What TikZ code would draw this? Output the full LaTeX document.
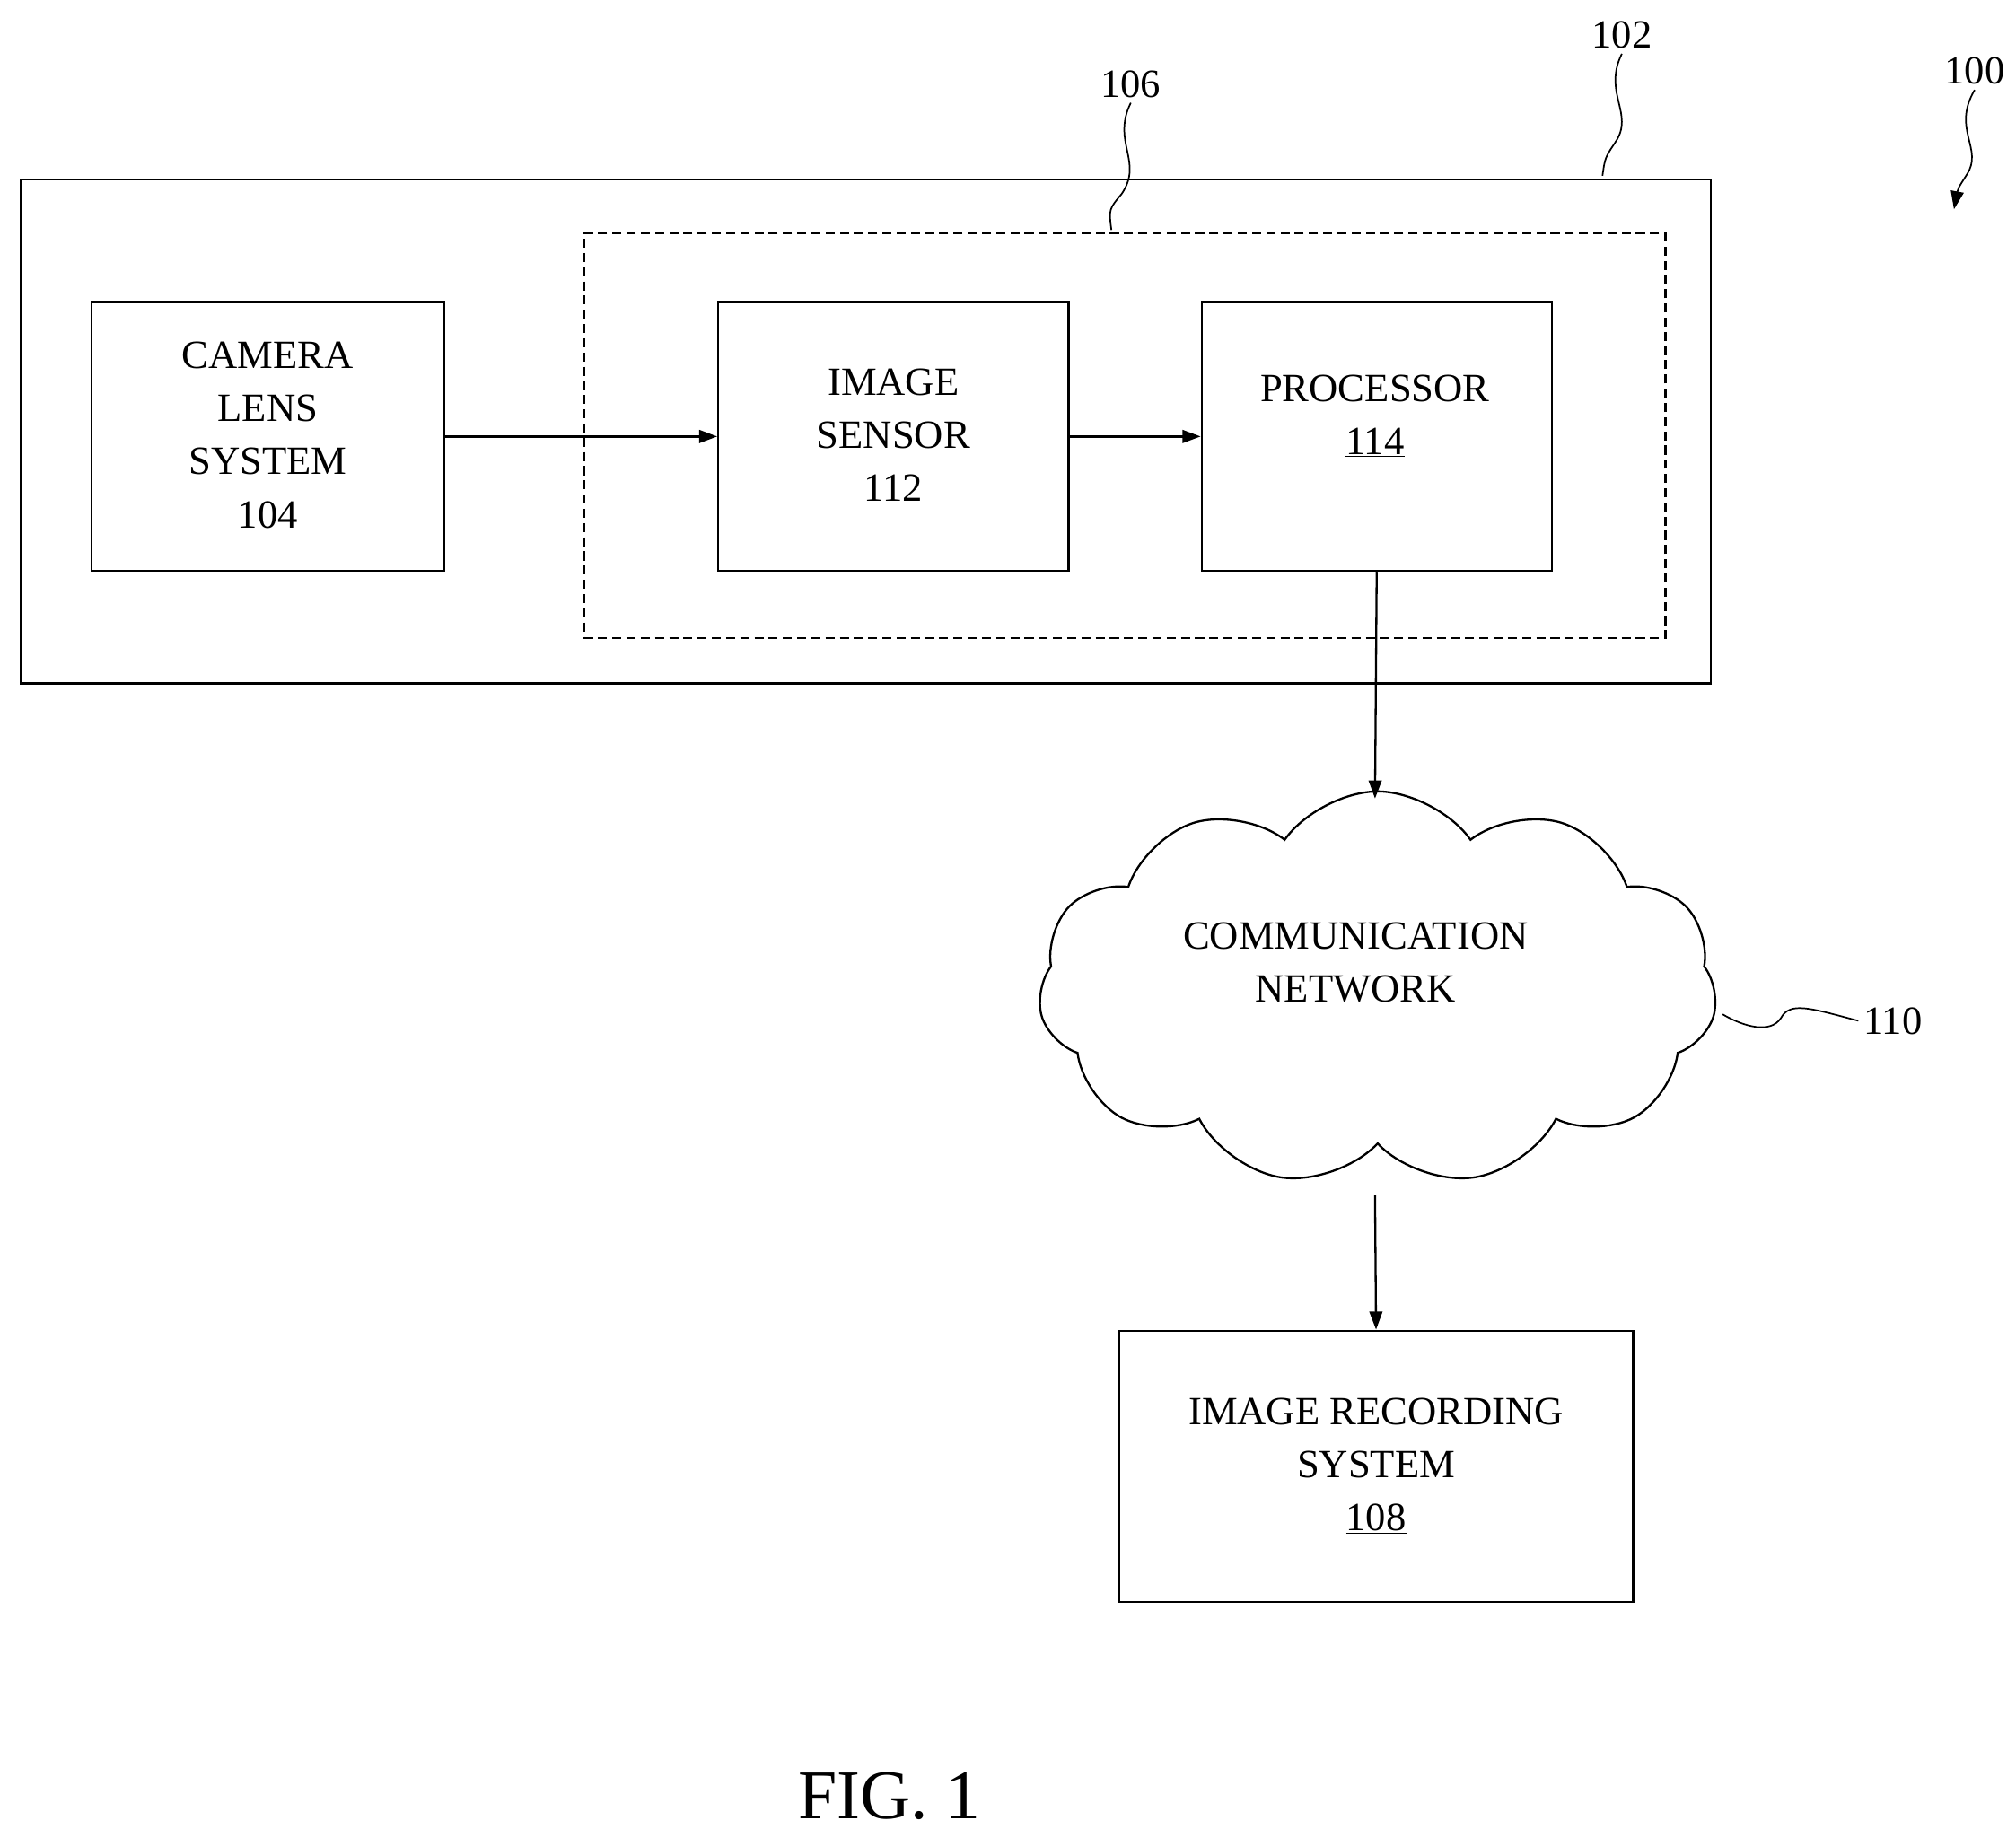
\documentclass[tikz,border=0pt]{standalone}
\usepackage{fontspec}
\setmainfont{Liberation Serif}
\usetikzlibrary{shapes.symbols,arrows.meta}
\begin{document}
\begin{tikzpicture}[x=1pt,y=-1pt,line width=1.6pt,
  txt/.style={align=center,font=\fontsize{31}{41}\selectfont,inner sep=0pt},
  blk/.style={txt,draw},
  lbl/.style={font=\fontsize{31}{37}\selectfont},
  arr/.style={-{Triangle[length=14pt,width=10pt]}},
  lead/.style={line width=1.2pt}]
\useasboundingbox (0,0) rectangle (1560,1422);
\node[draw,minimum width=1308pt,minimum height=390pt,anchor=north west] (s102) at (15,138) {};
\node[draw,dash pattern=on 7pt off 4pt,minimum width=837pt,minimum height=313pt,anchor=north west] (s106) at (451,180) {};
\node[blk,minimum width=273pt,minimum height=208pt,anchor=north west] (lens) at (70,233) {CAMERA\\LENS\\SYSTEM\\\underline{104}};
\node[blk,minimum width=271pt,minimum height=208pt,anchor=north west] (sens) at (555,233) {IMAGE\\SENSOR\\\underline{112}};
\node[draw,minimum width=271pt,minimum height=208pt,anchor=north west] (proc) at (929,233) {};
\node[txt] (proct) at (1064,322) {PROCESSOR\\\underline{114}};
\node[draw,cloud,cloud puffs=11,cloud puff arc=110,aspect=1.7,minimum width=525pt,minimum height=305pt] (net) at (1066,765) {};
\node[txt] (nett) at (1049,745) {COMMUNICATION\\NETWORK};
\node[blk,minimum width=398pt,minimum height=210pt,anchor=north west] (rec) at (865,1029) {IMAGE RECORDING\\SYSTEM\\\underline{108}};
\draw[arr] (lens.east) -- (sens.west);
\draw[arr] (sens.east) -- (proc.west);
\draw[arr] (proc.south) -- (1064,618);
\draw[arr] (1064,925) -- (rec.north);
\node[lbl] (l106) at (875,65) {106};
\node[lbl] (l102) at (1255,27) {102};
\node[lbl] (l100) at (1528,55) {100};
\node[lbl,anchor=west] (l110) at (1438,790) {110};
\coordinate (e106) at (860,178);
\coordinate (e102) at (1240,136);
\coordinate (e100) at (1512,162);
\coordinate (e110) at (1333,785);
\draw[lead] (l106.south) .. controls (860,110) and (885,125) .. (868,150) .. controls (858,162) .. (e106);
\draw[lead] (l102.south) .. controls (1240,72) and (1265,88) .. (1250,110) .. controls (1242,122) .. (e102);
\draw[lead,-{Triangle[length=14pt,width=10pt]}] (l100.south) .. controls (1510,100) and (1535,115) .. (1522,135) .. controls (1515,146) .. (e100);
\draw[lead] (l110.west) .. controls (1400,780) and (1385,775) .. (1378,788) .. controls (1370,800) and (1350,795) .. (e110);
\node[font=\fontsize{54}{56}\selectfont] (fig) at (688,1390) {FIG. 1};
\end{tikzpicture}
\end{document}
